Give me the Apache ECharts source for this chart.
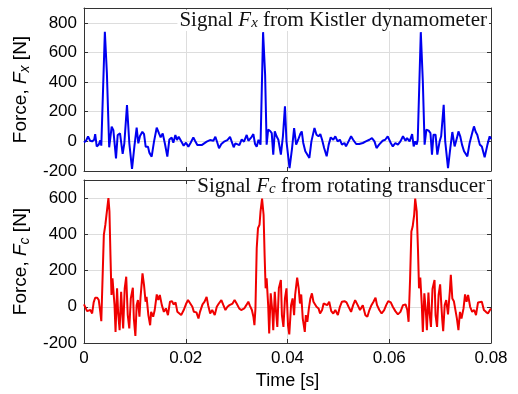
<!DOCTYPE html>
<html>
<head>
<meta charset="utf-8">
<script src="https://cdn.jsdelivr.net/npm/echarts@6/dist/echarts.min.js"></script>
<style>
  html, body { margin: 0; padding: 0; background: #fff; }
  #chart { width: 518px; height: 394px; }
</style>
</head>
<body>
<div id="chart"></div>
<script>
// Fx, Kistler dynamometer (time in ms, force in N)
const fxTimeMs = [
  0, 0.4, 0.8, 1.2, 1.6, 2.0, 2.2, 2.5, 2.9, 3.2,
  3.4, 3.7, 4.1, 4.5, 4.95, 5.44, 5.77, 5.96, 6.29, 6.62,
  7.08, 7.6, 7.93, 8.45, 8.91, 9.44, 9.9, 10.35, 10.68, 11.01,
  11.47, 11.8, 12.12, 12.58, 12.84, 13.3, 13.76, 14.29, 14.74, 15.07,
  15.47, 15.92, 16.38, 16.78, 17.23, 17.56, 17.96, 18.28, 18.61, 18.94,
  19.27, 19.59, 20.05, 20.51, 20.97, 21.49, 21.82, 22.28, 23.13, 24.12,
  24.77, 25.43, 25.82, 26.21, 26.54, 27.0, 27.52, 28.18, 28.7, 29.1,
  29.42, 29.75, 30.14, 30.54, 31.0, 31.45, 31.98, 32.31, 32.63, 32.96,
  33.29, 33.62, 33.94, 34.3, 34.7, 35.2, 35.6, 35.9, 36.2, 36.6,
  36.9, 37.2, 37.5, 37.85, 38.2, 38.7, 39.1, 39.5, 39.8, 40.4,
  40.9, 41.3, 41.7, 42.1, 42.5, 42.8, 43.1, 43.5, 43.8, 44.3,
  44.7, 45.3, 45.7, 46.1, 46.45, 46.8, 47.2, 47.7, 48.1, 48.5,
  49.0, 49.4, 49.85, 50.3, 50.7, 51.2, 51.5, 52.0, 52.5, 52.9,
  53.5, 54.1, 54.8, 55.4, 56.1, 56.6, 57.1, 57.5, 58.0, 58.7,
  59.2, 59.7, 60.3, 60.7, 61.2, 61.7, 62.2, 62.7, 63.2, 63.5,
  64.0, 64.5, 64.8, 65.1, 65.4, 65.6, 65.9, 66.2, 66.6, 66.95,
  67.3, 67.75, 68.1, 68.4, 68.7, 69.1, 69.45, 69.9, 70.2, 70.7,
  71.0, 71.55, 72.0, 72.4, 72.85, 73.3, 73.6, 73.95, 74.3, 74.7,
  75.0, 75.35, 75.8, 76.3, 76.65, 77.0, 77.3, 77.8, 78.2, 78.75,
  79.3, 79.74, 80.0
]
const fxForce = [
  -7, 4, 34, 4, 0, 11, 49, -34, -22, 7,
  -29, -22, 740, 460, -40, 99, 76, 88, -115, 43,
  54, -85, -13, 245, -13, -186, -36, 92, -13, 36,
  65, 49, -36, -36, -76, -103, -2, 92, 54, 27,
  54, -18, -103, 13, 25, -9, 43, 9, 31, 31,
  -9, -29, -9, -36, -9, 27, 4, -25, -25, -2,
  9, 4, 31, -9, -47, -18, -2, 9, 31, -9,
  -40, -13, -2, -25, 13, -2, 43, 4, -2, 31,
  49, -18, -36, 10, -22, 737, 449, -22, 79, 70,
  56, -90, 67, 34, 11, -90, 34, 236, 0, -180,
  -45, 90, -22, 11, 49, 67, -11, -67, -56, -112,
  0, 90, 45, 34, 49, 11, -45, -101, -22, 27,
  11, 34, 0, 11, -22, -11, -34, 0, 34, 11,
  -18, -18, -11, 0, 11, 22, 0, -45, -22, 4,
  11, 34, -11, -34, -11, -22, 0, 34, 4, 22,
  0, 49, -34, 0, -22, 11, 22, 737, 404, -22,
  79, 72, 56, -90, 45, 45, -90, 0, 34, 247,
  0, -180, -45, 63, -34, 22, 67, 34, -22, -67,
  -63, -101, -11, 56, 101, 63, 45, -22, -34, -108,
  -22, 34, 15
]

// Fc, rotating transducer
const fcTimeMs = [
  0, 0.26, 0.6, 0.9, 1.25, 1.6, 1.9, 2.2, 2.6, 2.9,
  3.2, 3.4, 3.9, 4.2, 4.5, 4.8, 5.0, 5.2, 5.4, 5.6,
  5.8, 6.0, 6.2, 6.5, 6.7, 7.0, 7.3, 7.5, 7.7, 8.0,
  8.3, 8.6, 8.9, 9.2, 9.6, 9.8, 10.1, 10.35, 10.6, 10.9,
  11.1, 11.5, 11.8, 12.1, 12.3, 12.65, 13.0, 13.2, 13.6, 13.9,
  14.3, 14.6, 14.9, 15.3, 15.7, 16.1, 16.5, 16.9, 17.3, 17.6,
  18.0, 18.35, 18.7, 19.1, 19.6, 20.05, 20.45, 20.8, 21.3, 21.6,
  22.1, 22.5, 22.8, 23.3, 23.7, 24.1, 24.4, 24.8, 25.2, 25.7,
  26.1, 26.5, 27.0, 27.4, 27.8, 28.2, 28.6, 29.2, 29.6, 30.0,
  30.5, 30.9, 31.5, 31.9, 32.3, 32.6, 33.0, 33.3, 33.5, 33.7,
  33.95, 34.2, 34.5, 34.7, 35.0, 35.3, 35.5, 35.7, 35.9, 36.2,
  36.4, 36.7, 37.0, 37.2, 37.5, 37.75, 38.0, 38.3, 38.7, 38.9,
  39.2, 39.5, 39.8, 40.1, 40.35, 40.7, 41.0, 41.3, 41.5, 41.9,
  42.2, 42.45, 42.7, 43.0, 43.4, 43.6, 43.9, 44.2, 44.5, 44.8,
  45.1, 45.4, 45.7, 46.1, 46.4, 46.8, 47.1, 47.4, 47.8, 48.2,
  48.6, 49.0, 49.4, 49.9, 50.3, 50.7, 51.2, 51.6, 52.0, 52.5,
  52.9, 53.3, 53.8, 54.25, 54.8, 55.3, 55.7, 56.1, 56.5, 56.9,
  57.3, 57.6, 58.05, 58.5, 59.0, 59.4, 59.8, 60.3, 60.7, 61.2,
  61.7, 62.2, 62.7, 63.2, 63.55, 63.8, 64.1, 64.35, 64.6, 64.9,
  65.1, 65.4, 65.65, 65.85, 66.1, 66.4, 66.6, 66.9, 67.2, 67.4,
  67.7, 67.9, 68.2, 68.5, 68.9, 69.1, 69.4, 69.7, 70.0, 70.4,
  70.6, 70.9, 71.2, 71.55, 71.9, 72.1, 72.4, 72.7, 73.0, 73.3,
  73.6, 73.9, 74.2, 74.6, 74.9, 75.2, 75.5, 75.9, 76.3, 76.7,
  77.05, 77.45, 77.8, 78.2, 78.6, 79.0, 79.4, 79.8, 80.0
]
const fcForce = [
  13, 9, -24, -28, -18, -37, 24, 50, 50, 37,
  -28, -80, 397, 453, 527, 600, 527, 286, 65, 157,
  148, 9, -139, 102, -28, -129, 83, -28, -120, 102,
  166, -46, -120, 46, 105, -65, -161, 9, 37, -55,
  46, 185, 120, 28, 55, -46, -102, -28, -55, -18,
  68, 37, 65, 9, -28, -9, -46, 28, 31, 13,
  24, -28, -33, -46, -18, 15, 37, 28, 0, -28,
  -31, -65, -28, 13, 28, 55, 9, -37, -18, -46,
  0, 18, 37, 9, -18, 0, 9, 18, 37, 18,
  -9, -18, -9, 9, 28, 6, -18, -55, -102, -9,
  323, 434, 453, 527, 597, 508, 286, 102, 157, 9,
  -148, 74, -18, -129, 83, -28, -111, 102, 148, -46,
  -111, 46, 102, -102, -153, 9, 46, -46, 65, 161,
  102, 18, 68, -65, -139, -46, -83, -9, 46, 74,
  28, 37, 0, -9, -37, -18, 18, 28, 9, 28,
  -24, -37, -18, -46, 0, 28, 31, 24, 0, -28,
  9, 37, 9, -18, 9, -46, -55, -18, 9, 28,
  50, 9, -18, -37, -18, 9, 31, 24, 0, -24,
  -42, -28, 9, 13, -18, -83, 157, 416, 443, 508,
  597, 527, 314, 102, 161, 9, -139, 74, -28, -129,
  79, -28, -111, 98, 148, -46, -111, 65, 124, -65,
  -135, 9, 37, -42, 83, 176, 46, 31, 28, -65,
  -129, -28, -65, -9, 68, 28, 65, 0, -28, -18,
  -46, 24, 18, 28, -18, -28, -37, -18, -9
]

const timeTicks = [0, 0.02, 0.04, 0.06, 0.08]
const fxTicks = [-200, 0, 200, 400, 600, 800]
const fcTicks = [-200, 0, 200, 400, 600]
const fxMax = 900
const fcMax = 700

const sans = 'Liberation Sans, Arial, sans-serif'
const serif = 'Liberation Serif, Times New Roman, serif'
const frameColor = '#333'

const toPoints = (times, values) => times.map((t, i) => [t / 1000, values[i]])

const frameLine = { show: true, onZero: false, lineStyle: { color: frameColor, width: 1 } }
const innerTick = { show: true, inside: true, length: 4, lineStyle: { color: frameColor } }
const gridLine = { show: true, lineStyle: { color: '#dddddd', width: 1 } }
const tickFont = { color: '#000', fontSize: 17, fontFamily: sans }

function timeAxis(gridIndex, position, withLabels) {
  return {
    type: 'value',
    gridIndex,
    position,
    min: timeTicks[0],
    max: timeTicks[timeTicks.length - 1],
    interval: timeTicks[1] - timeTicks[0],
    axisLine: frameLine,
    axisTick: innerTick,
    axisLabel: withLabels ? { ...tickFont, margin: 7 } : { show: false },
    splitLine: position === 'bottom' ? gridLine : { show: false },
  }
}

function forceAxis(gridIndex, position, ticks, max, name) {
  const axis = {
    type: 'value',
    gridIndex,
    position,
    min: ticks[0],
    max,
    interval: ticks[1] - ticks[0],
    axisLine: frameLine,
    axisTick: innerTick,
    axisLabel: { show: false },
    splitLine: { show: false },
  }
  if (position === 'left') {
    axis.axisLabel = { ...tickFont, margin: 7, showMaxLabel: false }
    axis.splitLine = gridLine
    axis.name = name
    axis.nameLocation = 'middle'
    axis.nameRotate = 90
    axis.nameGap = 39
    axis.nameTextStyle = {
      rich: {
        a: { fontSize: 19, fontFamily: sans, color: '#000' },
        i: { fontSize: 19, fontFamily: sans, fontStyle: 'italic', color: '#000' },
        s: { fontSize: 14, fontFamily: sans, fontStyle: 'italic', color: '#000', padding: [9, 0, 0, 0] },
      },
    }
  }
  return axis
}

const titleRich = {
  n: { fontSize: 21, fontFamily: serif, fontWeight: 'normal', color: '#111' },
  i: { fontSize: 21, fontFamily: serif, fontWeight: 'normal', fontStyle: 'italic', color: '#111' },
  s: { fontSize: 15, fontFamily: serif, fontWeight: 'normal', fontStyle: 'italic', color: '#111', padding: [7, 0, 0, 0] },
}

const chart = echarts.init(document.getElementById('chart'))
chart.setOption({
  animation: false,
  backgroundColor: '#fff',
  grid: [
    { left: 84, right: 27, top: 8, height: 163 },
    { left: 84, right: 27, top: 180, height: 163 },
  ],
  title: [
    {
      text: '{n|Signal }{i|F}{s|x}{n| from Kistler dynamometer}',
      right: 29,
      top: 9,
      padding: [0, 2, 0, 2],
      backgroundColor: '#fff',
      textStyle: { fontWeight: 'normal', rich: titleRich },
    },
    {
      text: '{n|Signal }{i|F}{s|c}{n| from rotating transducer}',
      right: 31,
      top: 175,
      padding: [0, 2, 0, 2],
      backgroundColor: '#fff',
      textStyle: { fontWeight: 'normal', rich: titleRich },
    },
  ],
  xAxis: [
    timeAxis(0, 'bottom', false),
    timeAxis(0, 'top', false),
    {
      ...timeAxis(1, 'bottom', true),
      name: 'Time [s]',
      nameLocation: 'middle',
      nameGap: 29,
      nameTextStyle: { fontSize: 18, fontFamily: sans, color: '#000' },
    },
    timeAxis(1, 'top', false),
  ],
  yAxis: [
    forceAxis(0, 'left', fxTicks, fxMax, '{a|Force, }{i|F}{s|x}{a| [N]}'),
    forceAxis(0, 'right', fxTicks, fxMax),
    forceAxis(1, 'left', fcTicks, fcMax, '{a|Force, }{i|F}{s|c}{a| [N]}'),
    forceAxis(1, 'right', fcTicks, fcMax),
  ],
  series: [
    {
      name: 'Fx',
      type: 'line',
      xAxisIndex: 0,
      yAxisIndex: 0,
      data: toPoints(fxTimeMs, fxForce),
      showSymbol: false,
      lineStyle: { color: '#0000f0', width: 2 },
      z: 1,
    },
    {
      name: 'Fc',
      type: 'line',
      xAxisIndex: 2,
      yAxisIndex: 2,
      data: toPoints(fcTimeMs, fcForce),
      showSymbol: false,
      lineStyle: { color: '#f00000', width: 2 },
      z: 1,
    },
  ],
})
</script>
</body>
</html>
